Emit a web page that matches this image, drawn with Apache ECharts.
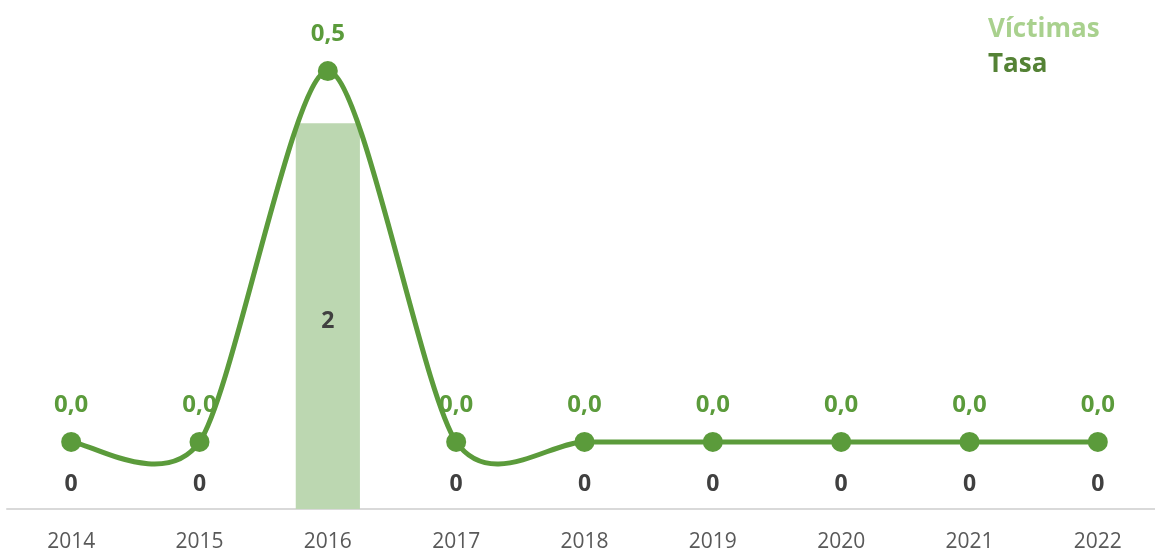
<!DOCTYPE html>
<html>
<head>
<meta charset="utf-8">
<script src="https://cdn.jsdelivr.net/npm/echarts@6/dist/echarts.min.js"></script>
<style>
  html, body { margin: 0; padding: 0; background: #fff; overflow: hidden; }
  #chart { width: 1162px; height: 553px; }
</style>
</head>
<body>
<div id="chart"></div>
<script>
const years = ["2014", "2015", "2016", "2017", "2018", "2019", "2020", "2021", "2022"];
const victimas = [0, 0, 2, 0, 0, 0, 0, 0, 0];
const tasa = [0, 0, 0.5, 0, 0, 0, 0, 0, 0];

const FONT = "Open Sans";
const lineColor = "#5b9b3b";
const barColor = "#bcd7b1";
const TENSION = 0.134; // excel-like smoothing (overshoots between points)

const chart = echarts.init(document.getElementById("chart"));

const barData = victimas.map((v) => ({
  value: v,
  label: v === 0 ? { position: "top", distance: 13 } : { position: "inside", offset: [0, 5] },
}));

// draws segment i -> i+1 as a cardinal spline bezier
function renderSmooth(params, api) {
  const i = params.dataIndex;
  if (i >= tasa.length - 1) return null;
  const pt = (j) => {
    j = Math.max(0, Math.min(tasa.length - 1, j));
    return api.coord([j, tasa[j]]);
  };
  const p0 = pt(i - 1), p1 = pt(i), p2 = pt(i + 1), p3 = pt(i + 2);
  const c1 = [p1[0] + (p2[0] - p0[0]) * TENSION, p1[1] + (p2[1] - p0[1]) * TENSION];
  const c2 = [p2[0] - (p3[0] - p1[0]) * TENSION, p2[1] - (p3[1] - p1[1]) * TENSION];
  return {
    type: "path",
    shape: {
      pathData: `M${p1[0]} ${p1[1]} C${c1[0]} ${c1[1]} ${c2[0]} ${c2[1]} ${p2[0]} ${p2[1]}`,
    },
    style: { fill: "none", stroke: lineColor, lineWidth: 5 },
  };
}

const option = {
  animation: false,
  textStyle: { fontFamily: FONT },
  legend: {
    orient: "vertical",
    left: 978,
    top: 12,
    itemWidth: 0,
    itemHeight: 0,
    itemGap: 9,
    icon: "none",
    data: [
      { name: "Víctimas", textStyle: { color: "#a9d18e" } },
      { name: "Tasa", textStyle: { color: "#548235" } },
    ],
    textStyle: { fontFamily: FONT, fontSize: 26, fontWeight: "bold", padding: 0 },
  },
  grid: { left: 7, right: 0, top: 38, bottom: 44 },
  xAxis: {
    type: "category",
    data: years,
    axisLine: { lineStyle: { color: "#d9d9d9", width: 2 } },
    axisTick: { show: false },
    axisLabel: { color: "#595959", fontSize: 21, margin: 23, fontFamily: FONT },
  },
  yAxis: [
    { type: "value", min: 0, max: 2.4416, show: false, splitLine: { show: false } },
    { type: "value", min: -0.0905, max: 0.5446, show: false, splitLine: { show: false } },
  ],
  series: [
    {
      name: "Víctimas",
      type: "bar",
      yAxisIndex: 0,
      barWidth: "50%",
      itemStyle: { color: barColor },
      data: barData,
      label: {
        show: true,
        color: "#404040",
        fontSize: 23,
        fontWeight: "bold",
        fontFamily: FONT,
      },
    },
    {
      name: "Tasa curve",
      type: "custom",
      yAxisIndex: 1,
      z: 3,
      renderItem: renderSmooth,
      data: tasa.map((v, i) => [i, v]),
      silent: true,
    },
    {
      name: "Tasa",
      type: "line",
      yAxisIndex: 1,
      z: 4,
      symbol: "circle",
      symbolSize: 20,
      lineStyle: { color: lineColor, width: 0, opacity: 0 },
      itemStyle: { color: lineColor },
      data: tasa,
      label: {
        show: true,
        position: "top",
        distance: 15,
        color: lineColor,
        fontSize: 24,
        fontWeight: "bold",
        fontFamily: FONT,
        formatter: (p) => p.value.toFixed(1).replace(".", ","),
      },
    },
  ],
};

chart.setOption(option);
</script>
</body>
</html>
